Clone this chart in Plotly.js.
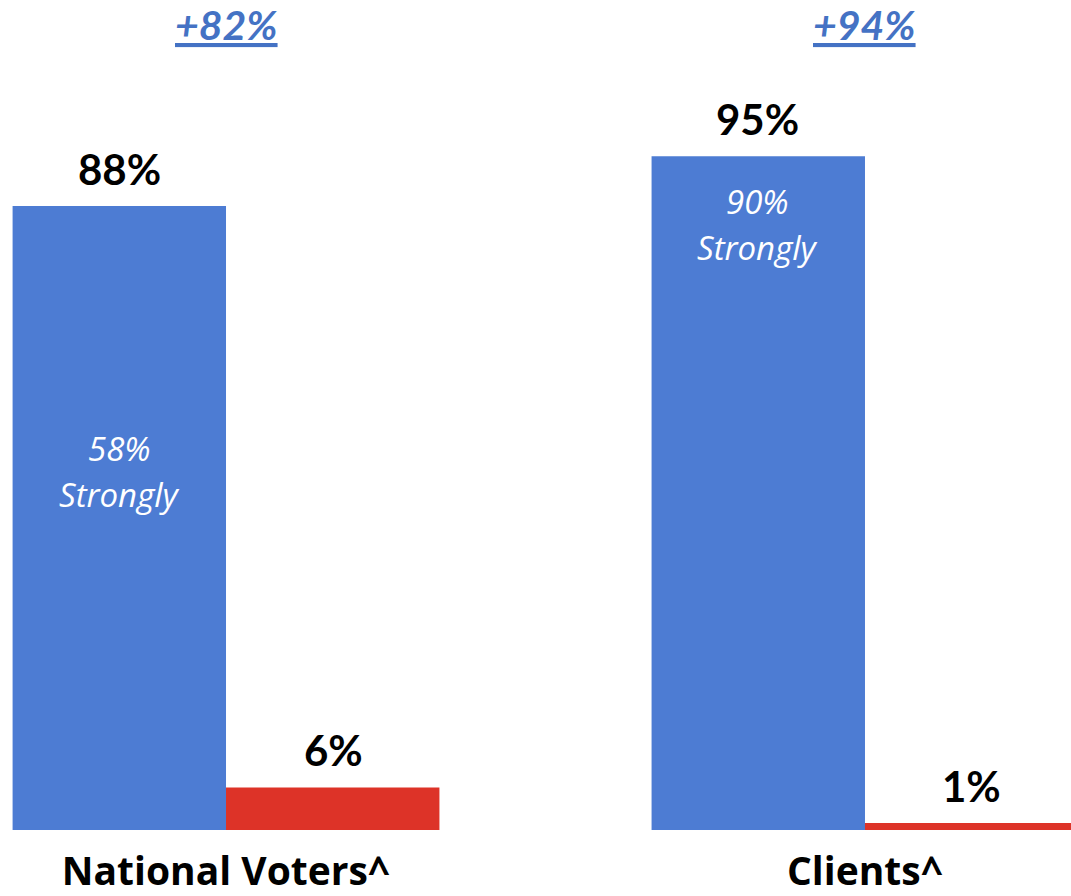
<!DOCTYPE html>
<html>
<head>
<meta charset="utf-8">
<script src="https://cdn.plot.ly/plotly-3.0.1.min.js"></script>
<style>html,body{margin:0;padding:0;background:#fff;}#chart{width:1071px;height:896px;}</style>
</head>
<body>
<div id="chart"></div>
<script>
const categories = ['National Voters^', 'Clients^'];
const favorable = [88, 95];
const unfavorable = [6, 1];
const strongly = [58, 90];
const netDiff = ['+82%', '+94%'];
const stronglyLabel = 'Strongly';

const blue = '#4D7CD3';
const red = '#DD3328';
const yMax = 117.05;
// pixel offset of the "strongly" label below each blue bar top
const innerOffsetPx = [243, 45];

const traces = [
  {type: 'bar', x: categories, y: favorable, marker: {color: blue}, hoverinfo: 'none'},
  {type: 'bar', x: categories, y: unfavorable, marker: {color: red}, hoverinfo: 'none'}
];

const annotations = [];
const boldFont = {family: 'Lato, sans-serif', size: 42, color: '#000'};
const innerFont = {family: 'Open Sans, sans-serif', size: 33, color: '#fff'};
categories.forEach((c, i) => {
  annotations.push({xref: 'x', yref: 'y', x: c, y: favorable[i], xshift: -107, yshift: 10,
    yanchor: 'bottom', showarrow: false, text: '<b>' + favorable[i] + '%</b>', font: boldFont});
  annotations.push({xref: 'x', yref: 'y', x: c, y: unfavorable[i], xshift: 107, yshift: 10,
    yanchor: 'bottom', showarrow: false, text: '<b>' + unfavorable[i] + '%</b>', font: boldFont});
  annotations.push({xref: 'x', yref: 'paper', x: c, y: 1, yshift: 2,
    yanchor: 'top', showarrow: false, text: '<b><i><u>' + netDiff[i] + '</u></i></b>',
    font: {family: 'Lato, sans-serif', size: 41, color: '#4472C4'}});
  annotations.push({xref: 'x', yref: 'y', x: c, y: favorable[i], xshift: -107, yshift: -innerOffsetPx[i],
    yanchor: 'middle', showarrow: false, text: '<i>' + strongly[i] + '%</i>', font: innerFont});
  annotations.push({xref: 'x', yref: 'y', x: c, y: favorable[i], xshift: -107, yshift: -innerOffsetPx[i] - 46,
    yanchor: 'middle', showarrow: false, text: '<i>' + stronglyLabel + '</i>', font: innerFont});
});

const layout = {
  width: 1071, height: 896,
  margin: {l: 0, r: 0, t: 0, b: 66, pad: 0},
  paper_bgcolor: '#fff', plot_bgcolor: '#fff',
  barmode: 'group', bargap: 0.332, bargroupgap: 0,
  showlegend: false,
  xaxis: {type: 'category', range: [-0.3537, 1.3224], showgrid: false, zeroline: false,
    showline: false, ticks: '', ticklabelstandoff: 15,
    tickfont: {family: 'Open Sans, sans-serif', size: 39, color: '#000', weight: 'bold'}},
  yaxis: {range: [0, yMax], visible: false, showgrid: false, zeroline: false},
  annotations: annotations
};

Plotly.newPlot('chart', traces, layout, {displayModeBar: false, staticPlot: true});
</script>
</body>
</html>
